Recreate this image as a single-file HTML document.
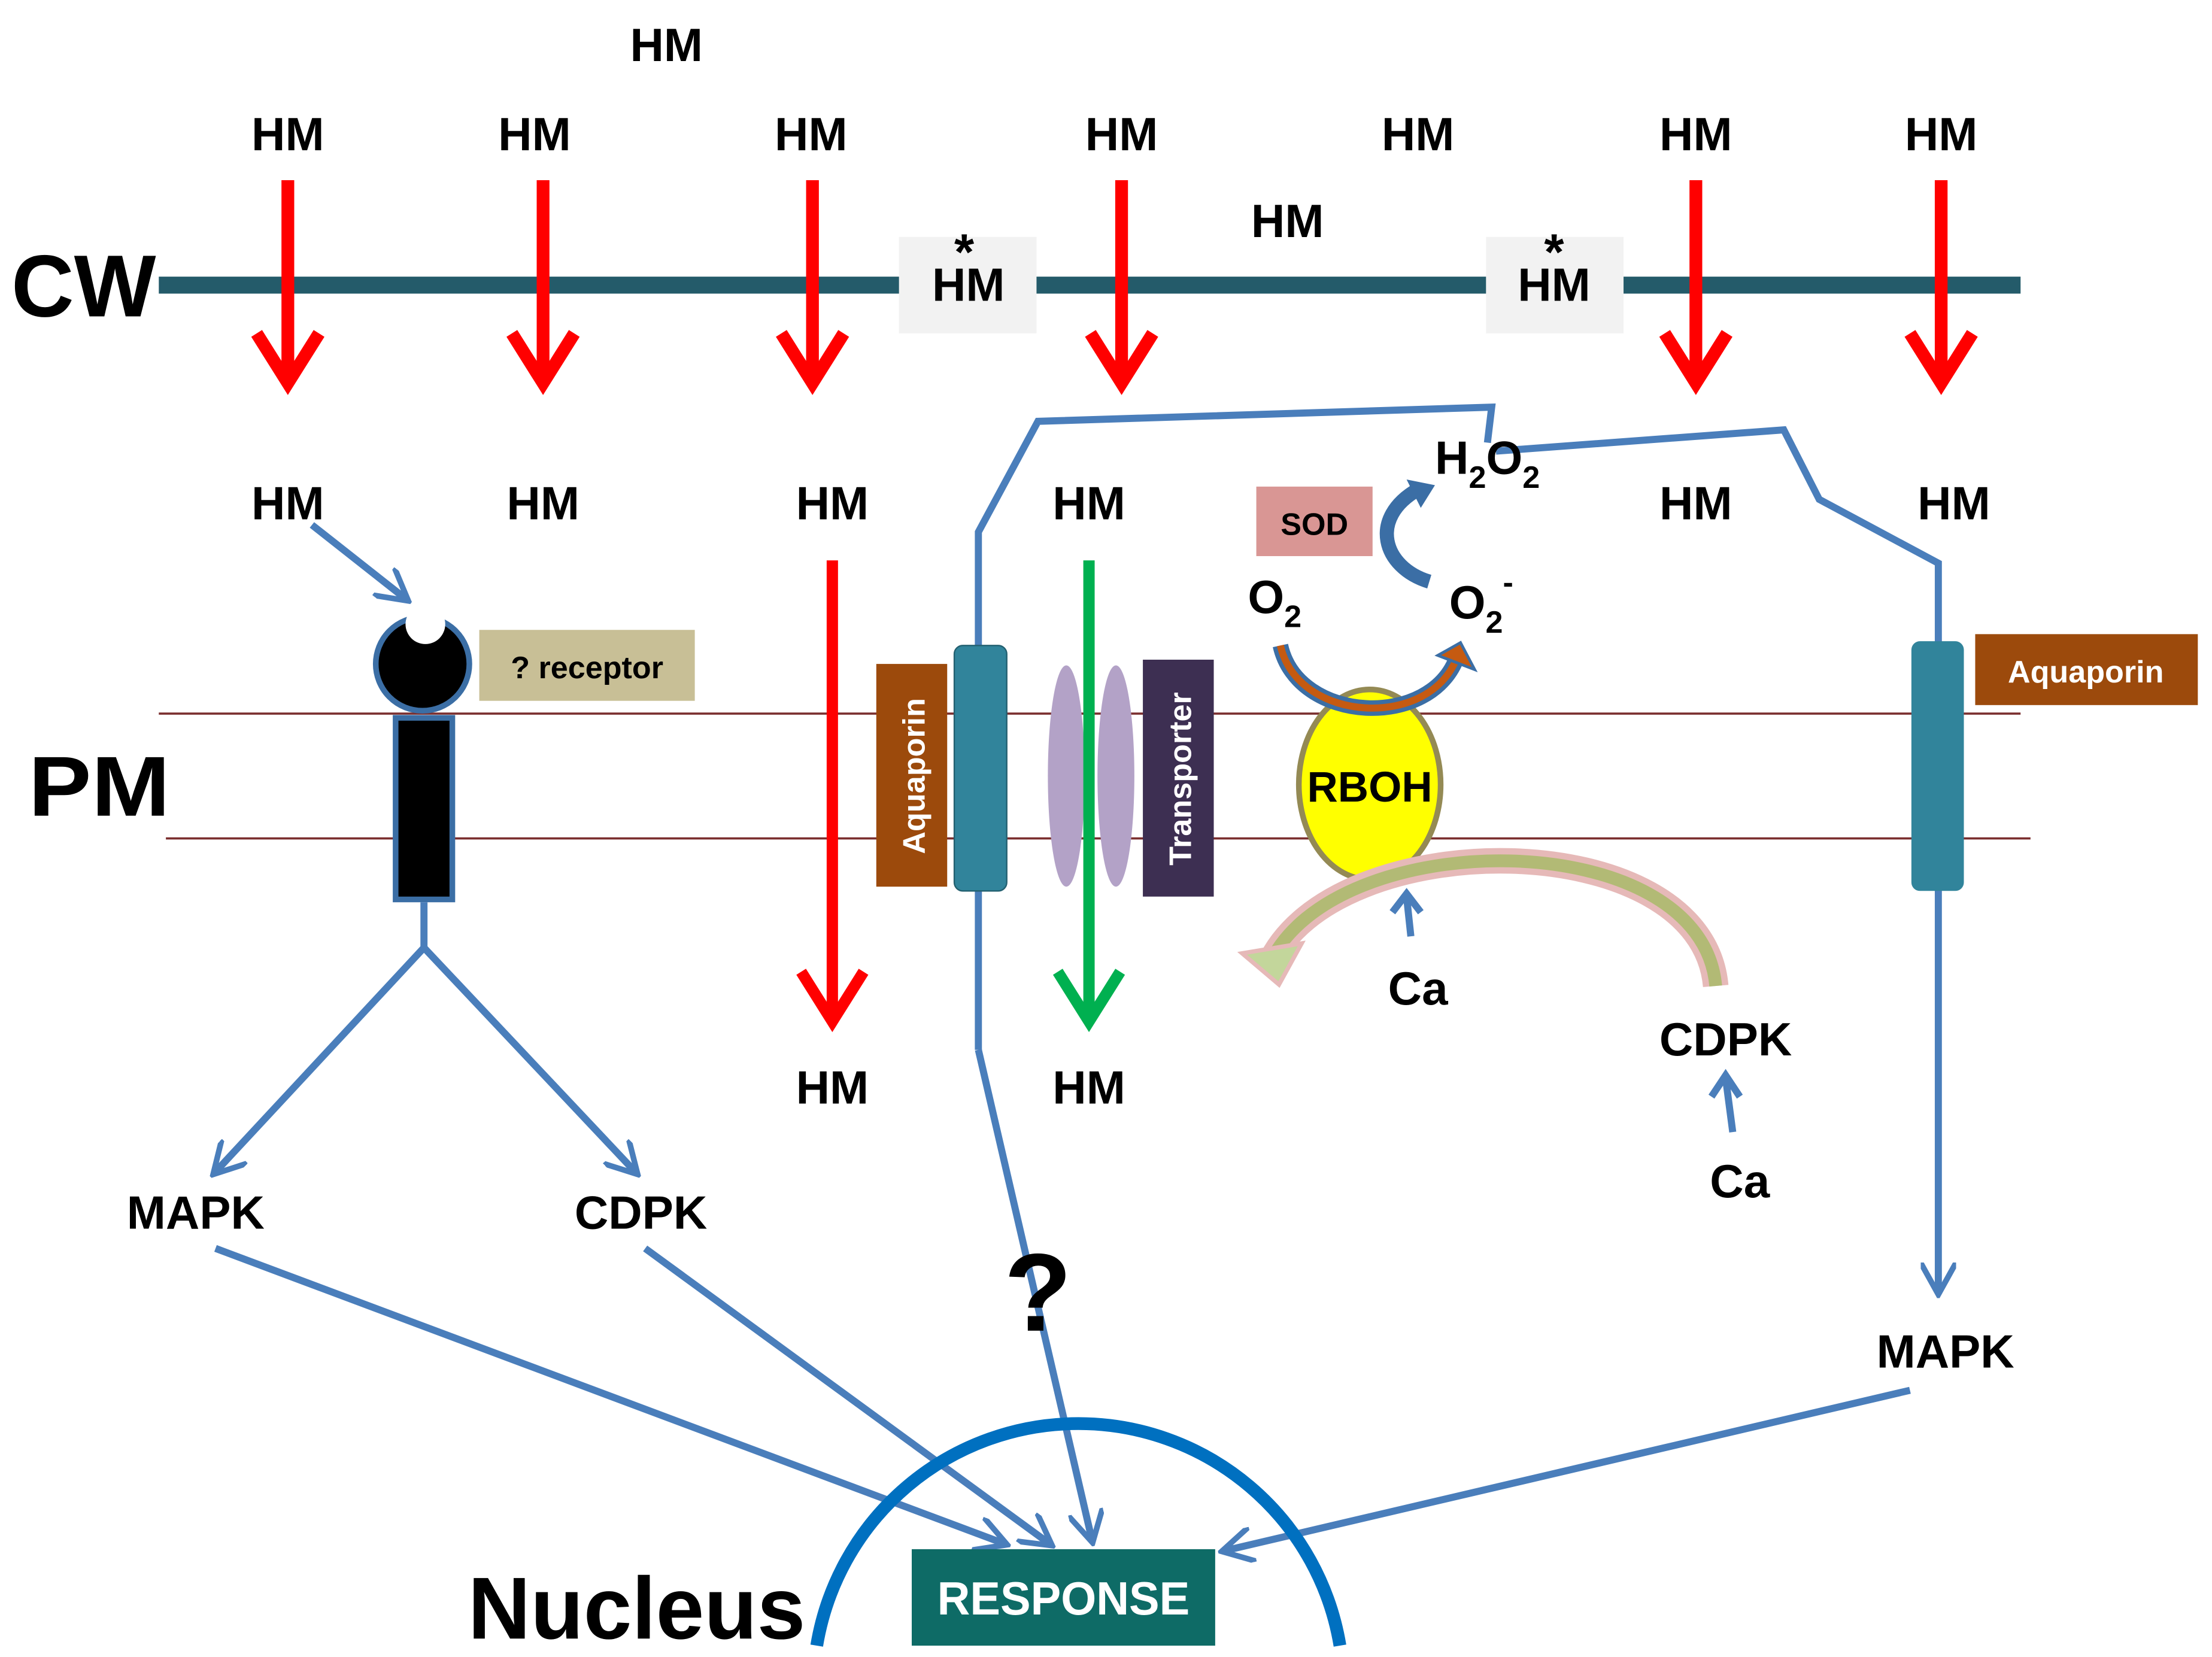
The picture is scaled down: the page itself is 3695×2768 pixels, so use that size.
<!DOCTYPE html>
<html><head><meta charset="utf-8"><style>
html,body{margin:0;padding:0;background:#fff;}
svg{display:block;}
text{font-family:"Liberation Sans",sans-serif;font-weight:bold;fill:#000;}
</style></head><body>
<svg width="3695" height="2768" viewBox="0 0 1560 1168" preserveAspectRatio="none" xmlns="http://www.w3.org/2000/svg">
<defs>
<marker id="ba" viewBox="0 0 10 10" refX="8" refY="5" markerWidth="5" markerHeight="5" orient="auto" markerUnits="strokeWidth"><path d="M0,0 L9,5 L0,10" fill="none" stroke="#4a7ebb" stroke-width="1.6"/></marker>
</defs>
<g font-size="33" text-anchor="middle">
<text x="470" y="43">HM</text>
<text x="203" y="106">HM</text><text x="377" y="106">HM</text><text x="572" y="106">HM</text>
<text x="791" y="106">HM</text><text x="1000" y="106">HM</text><text x="1196" y="106">HM</text><text x="1369" y="106">HM</text>
<text x="908" y="167">HM</text>
</g>
<text x="8" y="223" font-size="62" textLength="102" lengthAdjust="spacingAndGlyphs">CW</text>
<line x1="112" y1="201" x2="1425" y2="201" stroke="#245b6a" stroke-width="12"/>
<rect x="634" y="167" width="97" height="68" fill="#f2f2f2"/>
<rect x="1048" y="167" width="97" height="68" fill="#f2f2f2"/>
<g font-size="33" text-anchor="middle">
<text x="683" y="212">HM</text><text x="1096" y="212">HM</text>
<text x="680" y="190" font-size="36">*</text><text x="1096" y="190" font-size="36">*</text>
</g>
<g stroke="#f00" stroke-width="9" fill="none">
<path d="M203,127V270M181,235L203,270L225,235"/>
<path d="M383,127V270M361,235L383,270L405,235"/>
<path d="M573,127V270M551,235L573,270L595,235"/>
<path d="M791,127V270M769,235L791,270L813,235"/>
<path d="M1196,127V270M1174,235L1196,270L1218,235"/>
<path d="M1369,127V270M1347,235L1369,270L1391,235"/>
</g>
<g font-size="33" text-anchor="middle">
<text x="203" y="366">HM</text><text x="383" y="366">HM</text><text x="587" y="366">HM</text>
<text x="768" y="366">HM</text><text x="1196" y="366">HM</text><text x="1378" y="366">HM</text>
<text x="587" y="778">HM</text><text x="768" y="778">HM</text>
</g>
<line x1="112" y1="503" x2="1425" y2="503" stroke="#7a2e2e" stroke-width="1.5"/>
<line x1="117" y1="591" x2="1432" y2="591" stroke="#7a2e2e" stroke-width="1.5"/>
<text x="20" y="575" font-size="60" textLength="100" lengthAdjust="spacingAndGlyphs">PM</text>
<path d="M220,370L286,422" stroke="#4a7ebb" stroke-width="5" fill="none" marker-end="url(#ba)"/>
<circle cx="298" cy="468" r="33" fill="#000" stroke="#3b6ea5" stroke-width="4"/>
<circle cx="300" cy="440" r="14" fill="#fff"/>
<rect x="279" y="506" width="40" height="128" fill="#000" stroke="#3b6ea5" stroke-width="4"/>
<rect x="338" y="444" width="152" height="50" fill="#c8bf96"/>
<text x="414" y="478" font-size="22" text-anchor="middle">? receptor</text>
<g stroke="#4a7ebb" stroke-width="5" fill="none">
<path d="M299,636V668L152,826" marker-end="url(#ba)"/>
<path d="M299,668L448,826" marker-end="url(#ba)"/>
<path d="M152,880L708,1088" marker-end="url(#ba)"/>
<path d="M455,880L740,1088" marker-end="url(#ba)"/>
<path d="M1347,980L864,1093" marker-end="url(#ba)"/>
<path d="M690,740V375L732,297L1052,287L1049,312M1055,318L1258,303L1283,352L1367,397V910" marker-end="url(#ba)"/>
<path d="M690,740L770,1085" marker-end="url(#ba)"/>
</g>
<path d="M587,395V718M565,685L587,720L609,685" stroke="#f00" stroke-width="8" fill="none"/>
<rect x="618" y="468" width="50" height="157" fill="#9c4a0c"/>
<text transform="translate(652,547) rotate(-90)" font-size="22" style="fill:#fff" text-anchor="middle">Aquaporin</text>
<rect x="673" y="455" width="37" height="173" rx="6" fill="#31849b" stroke="#236070" stroke-width="1"/>
<ellipse cx="752" cy="547" rx="13" ry="78" fill="#b3a2c7"/>
<ellipse cx="787" cy="547" rx="13" ry="78" fill="#b3a2c7"/>
<path d="M768,395V718M746,685L768,720L790,685" stroke="#00b050" stroke-width="8" fill="none"/>
<rect x="806" y="465" width="50" height="167" fill="#3d2f52"/>
<text transform="translate(840,549) rotate(-90)" font-size="22" style="fill:#fff" text-anchor="middle">Transporter</text>
<rect x="886" y="343" width="82" height="49" fill="#d99694"/>
<text x="927" y="377" font-size="22" text-anchor="middle">SOD</text>
<text x="1012" y="334" font-size="33">H<tspan font-size="22" dy="10">2</tspan><tspan dy="-10">O</tspan><tspan font-size="22" dy="10">2</tspan></text>
<text x="880" y="432" font-size="33">O<tspan font-size="22" dy="10">2</tspan></text>
<text x="1022" y="436" font-size="33">O<tspan font-size="22" dy="10">2</tspan><tspan font-size="22" dy="-28">-</tspan></text>
<path d="M1008,410 C975,400 965,365 1000,345" stroke="#3b6ea5" stroke-width="10" fill="none"/>
<path d="M992,338L1012,342L1002,358Z" fill="#3b6ea5"/>
<ellipse cx="966" cy="553" rx="50" ry="67" fill="#ff0" stroke="#948a54" stroke-width="4"/>
<text x="966" y="565" font-size="30" text-anchor="middle">RBOH</text>
<path d="M903,455 C915,510 1010,515 1028,462" stroke="#3b6ea5" stroke-width="11" fill="none"/>
<path d="M903,455 C915,510 1010,515 1028,462" stroke="#c55a11" stroke-width="5" fill="none"/>
<path d="M1014,462L1030,453L1040,472Z" fill="#c55a11" stroke="#3b6ea5" stroke-width="2"/>
<path d="M1210,695 C1200,580 940,580 895,680" stroke="#e6b9b8" stroke-width="18" fill="none"/>
<path d="M1210,695 C1200,580 940,580 895,680" stroke="#9bbb59" stroke-width="9" fill="none" opacity="0.7"/>
<path d="M876,672L902,694L918,665Z" fill="#c3d69b" stroke="#e6b9b8" stroke-width="3"/>
<path d="M995,660L992,632M982,643L992,630L1002,643" stroke="#4a7ebb" stroke-width="5" fill="none"/>
<text x="1000" y="708" font-size="33" text-anchor="middle">Ca</text>
<text x="1217" y="744" font-size="33" text-anchor="middle">CDPK</text>
<path d="M1222,798L1217,760M1207,773L1217,758L1227,773" stroke="#4a7ebb" stroke-width="5" fill="none"/>
<text x="1227" y="844" font-size="33" text-anchor="middle">Ca</text>
<rect x="1348" y="452" width="37" height="176" rx="6" fill="#31849b"/>
<rect x="1393" y="447" width="157" height="50" fill="#9c4a0c"/>
<text x="1471" y="481" font-size="22" style="fill:#fff" text-anchor="middle">Aquaporin</text>
<g font-size="33" text-anchor="middle">
<text x="138" y="866">MAPK</text><text x="452" y="866">CDPK</text><text x="1372" y="964">MAPK</text>
</g>
<text x="732" y="938" font-size="78" text-anchor="middle">?</text>
<path d="M576,1160 A187,187 0 0 1 945,1160" stroke="#0070c0" stroke-width="9" fill="none"/>
<rect x="643" y="1092" width="214" height="68" fill="#0e6b66"/>
<text x="750" y="1138" font-size="33" style="fill:#fff" text-anchor="middle" textLength="178" lengthAdjust="spacingAndGlyphs">RESPONSE</text>
<text x="330" y="1155" font-size="62" textLength="238" lengthAdjust="spacingAndGlyphs">Nucleus</text>
</svg>
</body></html>
